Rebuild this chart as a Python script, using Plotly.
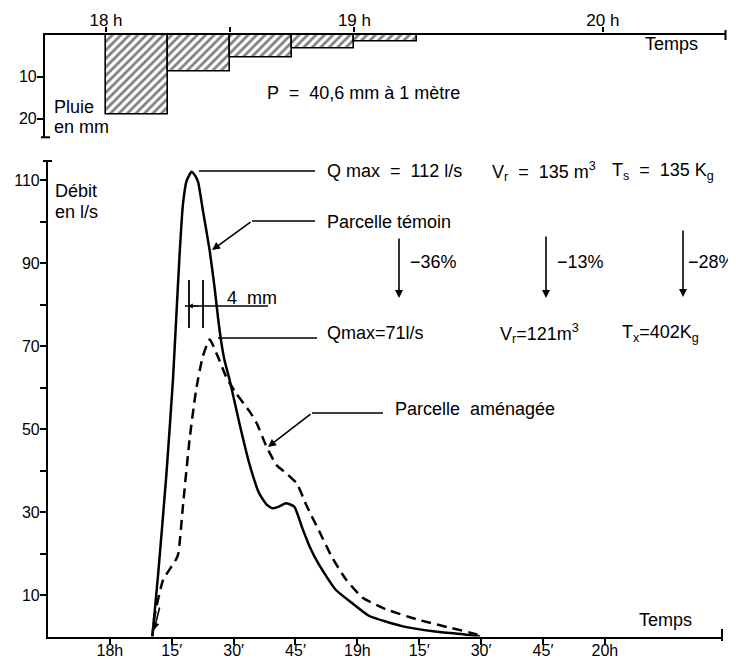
import plotly.graph_objects as go

# ---------------- data ----------------
# Rainfall (hyetograph): 15-minute blocks starting at minutes after 18h
rain_start_min = [0, 15, 30, 45, 60]
rain_mm = [19.0, 8.8, 5.4, 3.3, 1.7]

# Parcelle témoin (solid) : minutes after 18h, discharge l/s
t_temoin = [10.3, 11.7, 13.7, 15.3, 16.1, 16.9, 17.7, 18.6, 19.8, 20.7, 21.4, 22.5,
            24.2, 25.4, 26.2, 27.0, 27.8, 29.0, 31.4, 33.8, 36.2, 38.0, 39.4, 41.0,
            42.7, 44.7, 46.7, 48.5, 50.7, 54.8, 58.8, 62.8, 70.8, 78.9, 86.0, 89.7]
q_temoin = [0.0, 15.0, 39.0, 62.0, 77.0, 92.0, 104.0, 109.8, 112.0, 111.0, 109.5, 103.0,
            93.0, 84.0, 77.0, 71.0, 66.5, 62.0, 51.4, 41.7, 34.5, 31.8, 30.9, 31.3,
            32.1, 31.3, 26.0, 21.5, 17.3, 11.2, 8.0, 5.0, 2.5, 1.2, 0.5, 0.0]

# Parcelle aménagée (dashed)
t_amenagee = [10.3, 10.8, 12.9, 14.9, 16.0, 16.6, 17.7, 19.3, 20.9, 22.5, 24.2, 26.2,
              28.2, 30.6, 33.9, 35.6, 38.0, 40.4, 42.8, 45.3, 47.7, 50.7, 53.9, 57.2,
              61.2, 66.8, 74.9, 82.9, 88.6, 89.7]
q_amenagee = [0.0, 4.8, 13.6, 16.8, 18.5, 20.0, 31.3, 47.3, 59.4, 67.4, 71.6, 67.4,
              62.6, 58.6, 54.2, 51.4, 45.7, 41.3, 39.3, 36.9, 31.5, 25.5, 19.0, 13.8,
              9.4, 6.6, 4.0, 2.0, 0.6, 0.0]

# tick labels
x_tickvals = [0, 15, 30, 45, 60, 75, 90, 105, 120]
x_ticktext = ["18h", "15\u2032", "30\u2032", "45\u2032", "19h", "15\u2032", "30\u2032", "45\u2032", "20h"]
top_tickvals = [0, 60, 120]
top_ticktext = ["18 h", "19 h", "20 h"]
top_minor_ticks = [30]
y_tickvals = [10, 30, 50, 70, 90, 110]
y_ticktext = ["10", "30", "50", "70", "90", "110"]
y_minor_ticks = [20, 40, 60, 80, 100]
rain_tickvals = [10, 20]
rain_ticktext = ["10", "20"]

# ---------------- figure ----------------
# the page places the figure 8 px from the window's top-left corner
OFF = 8
W, H = 736 - OFF, 659 - OFF
FONT = "Liberation Sans, Arial, Helvetica, sans-serif"


def px(x):
    return (x - OFF) / W


def py(y):
    return 1 - (y - OFF) / H


fig = go.Figure()

fig.add_trace(go.Bar(
    x=[s + 7.5 for s in rain_start_min], y=rain_mm, width=15,
    xaxis="x2", yaxis="y2", showlegend=False,
    marker=dict(color="white", line=dict(color="black", width=1.6),
                pattern=dict(shape="/", fgcolor="black", bgcolor="white",
                             size=6, solidity=0.45)),
))

fig.add_trace(go.Scatter(
    x=t_temoin, y=q_temoin, mode="lines", showlegend=False,
    line=dict(color="black", width=2.5, shape="spline", smoothing=0.5),
))
fig.add_trace(go.Scatter(
    x=t_amenagee, y=q_amenagee, mode="lines", showlegend=False,
    line=dict(color="black", width=2.5, dash="10px,6px", shape="spline", smoothing=0.5),
))

axis_common = dict(showgrid=False, zeroline=False, showline=True, linecolor="black",
                   linewidth=2.2, ticks="outside", tickcolor="black", tickwidth=2,
                   automargin=False)
tick16 = dict(family=FONT, size=16, color="black")
tick17 = dict(family=FONT, size=17, color="black")

fig.update_layout(
    width=W, height=H, autosize=False,
    margin=dict(l=0, r=0, t=0, b=0),
    paper_bgcolor="white", plot_bgcolor="white",
    showlegend=False, bargap=0,
    xaxis=dict(domain=[px(48), px(722)], range=[-15, 148.4], anchor="y",
               tickvals=x_tickvals, ticktext=x_ticktext, ticklen=6,
               ticklabelstandoff=-8, tickfont=tick16, **axis_common),
    yaxis=dict(domain=[py(636.5), py(161)], range=[0, 114.6], anchor="x",
               tickvals=y_tickvals, ticktext=y_ticktext, ticklen=6, tickfont=tick16,
               ticklabelstandoff=-3,
               minor=dict(tickmode="array", tickvals=y_minor_ticks, ticks="outside",
                          ticklen=6, tickwidth=2, tickcolor="black", showgrid=False),
               **axis_common),
    xaxis2=dict(domain=[px(45), px(725.5)], range=[-14.73, 149.6], anchor="y2",
                side="top", tickvals=top_tickvals, ticktext=top_ticktext, ticklen=5,
                tickfont=tick17, ticklabelstandoff=-5,
                minor=dict(tickmode="array", tickvals=top_minor_ticks, ticks="outside",
                           ticklen=5, tickwidth=2, tickcolor="black", showgrid=False),
                **axis_common),
    yaxis2=dict(domain=[py(137.3), py(34.5)], range=[24.4, 0], anchor="x2",
                tickvals=rain_tickvals, ticktext=rain_ticktext, ticklen=6,
                ticklabelstandoff=-3, tickfont=tick16, **axis_common),
)

# ---------------- text ----------------
def txt(x, y, s, size=18, anchor="left"):
    fig.add_annotation(x=px(x), y=py(y), xref="paper", yref="paper", text=s,
                       showarrow=False, xanchor=anchor, yanchor="middle",
                       font=dict(family=FONT, size=size, color="black"))


txt(52, 107, "Pluie")
txt(52, 127, "en mm")
txt(265, 93, "P  =  40,6 mm à 1 mètre")
txt(643, 44, "Temps")

txt(53, 191, "Débit")
txt(53, 212, "en l/s")
txt(325, 171, "Q max  =  112 l/s")
txt(490, 171, "V<sub>r</sub>  =  135 m<sup>3</sup>")
txt(610, 171, "T<sub>s</sub>  =  135 K<sub>g</sub>")
txt(325, 222, "Parcelle témoin")
txt(408, 262, "\u221236%")
txt(555, 262, "\u221213%")
txt(686, 262, "\u221228%")
txt(225, 298, "4  mm")
txt(325, 333, "Qmax=71l/s")
txt(498, 333, "V<sub>r</sub>=121m<sup>3</sup>")
txt(620, 333, "T<sub>x</sub>=402K<sub>g</sub>")
txt(393, 409, "Parcelle  aménagée")
txt(637, 620, "Temps")

# ---------------- leader lines & arrows ----------------
def hline(x0, x1, y, w=1.6):
    fig.add_shape(type="line", xref="paper", yref="paper", x0=px(x0), x1=px(x1),
                  y0=py(y), y1=py(y), line=dict(color="black", width=w))


def vline(x, y0, y1, w=1.6):
    fig.add_shape(type="line", xref="paper", yref="paper", x0=px(x), x1=px(x),
                  y0=py(y0), y1=py(y1), line=dict(color="black", width=w))


def arrow(x_tip, y_tip, x_tail, y_tail, w=1.6, head=2, size=1.0):
    fig.add_annotation(x=px(x_tip), y=py(y_tip), xref="paper", yref="paper",
                       ax=x_tail - x_tip, ay=y_tail - y_tip, axref="pixel", ayref="pixel",
                       text="", showarrow=True, arrowhead=head, arrowsize=size,
                       arrowwidth=w, arrowcolor="black")


hline(199, 315, 171)
hline(252, 315, 221)
arrow(212, 250, 252, 221)
hline(218, 317, 338)
hline(312, 383, 413)
arrow(268, 447, 312, 413)

arrow(399, 298, 399, 237)
arrow(546, 298, 546, 235)
arrow(683, 297, 683, 229)

# 4 mm marker
vline(189, 280, 328, 1.8)
vline(203, 280, 328, 1.8)
hline(185, 268, 306, 1.5)
arrow(188, 306, 200, 306, w=1.2, head=2, size=0.8)
arrow(154, 630, 160, 606, w=1.6, head=2, size=0.9)

# axis end caps
vline(722, 629, 641, 2)
vline(725.5, 30, 40, 2)
hline(41, 50, 137.3, 2)
hline(43, 52, 161, 2)

fig.write_html("out.html")
